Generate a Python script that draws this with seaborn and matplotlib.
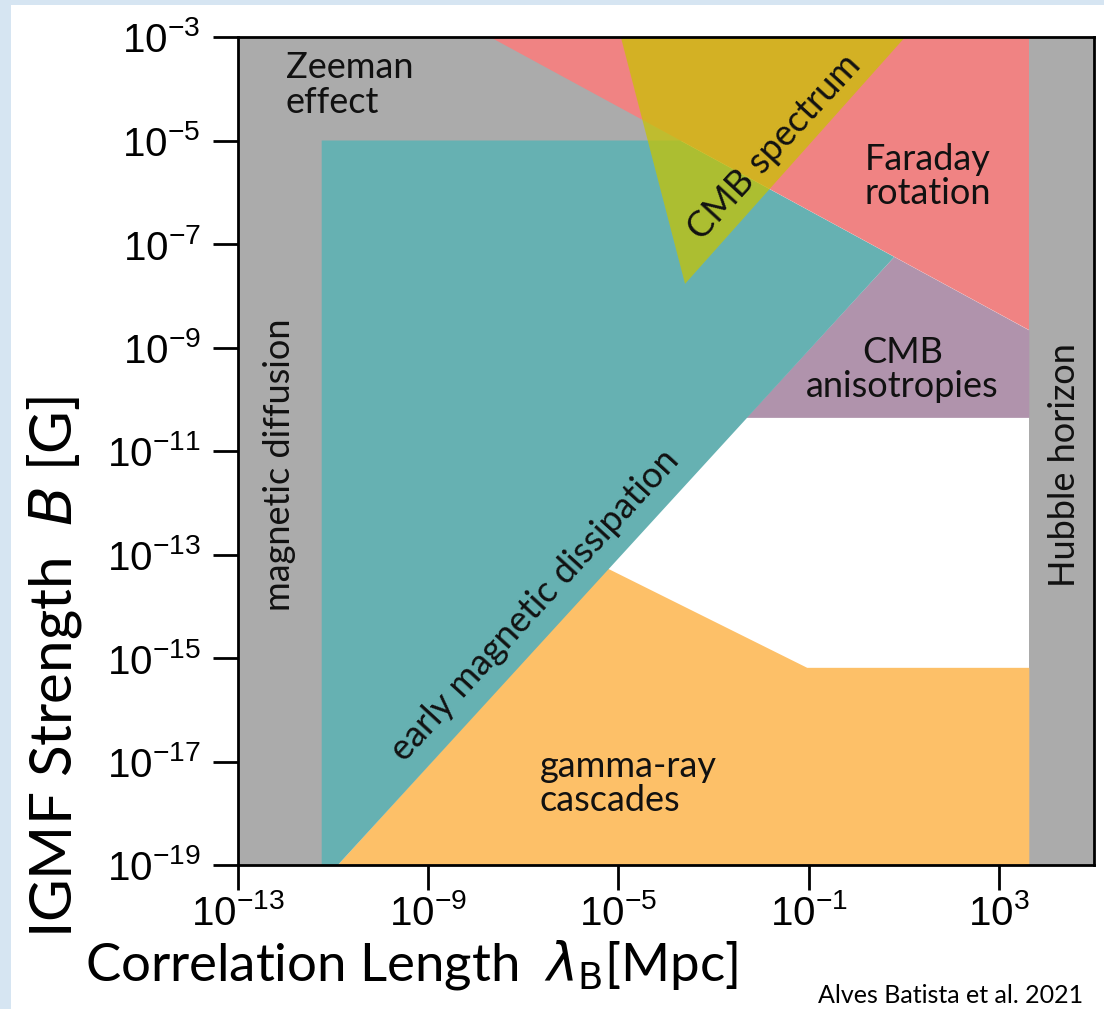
import numpy as np
import matplotlib
matplotlib.use("Agg")
import matplotlib.pyplot as plt
import seaborn as sns
from matplotlib.patches import Rectangle

# ---------------- data (log10 of correlation length [Mpc], log10 of B [G]) ----------------
x_tick_exp = [-13, -9, -5, -1, 3]
y_tick_exp = [-3, -5, -7, -9, -11, -13, -15, -17, -19]
x_lim_exp = [-13, 5]
y_lim_exp = [-19, -3]

zeeman_x = [-13, 3.64, 3.64, -13]
zeeman_y = [-5, -5, -3, -3]
diffusion_x = [-13, -11.24, -11.24, -13]
diffusion_y = [-19, -19, -3, -3]
hubble_x = [3.64, 5, 5, 3.64]
hubble_y = [-19, -19, -3, -3]
cascade_x = [-10.9, 3.64, 3.64, -1.03, -5.23]
cascade_y = [-19, -19, -15.19, -15.19, -13.27]
anisotropy_x = [-2.31, 3.64, 3.64, 0.8]
anisotropy_y = [-10.36, -10.36, -8.67, -7.25]
dissipation_x = [-11.24, -10.9, 0.8, -3.7, -11.24]
dissipation_y = [-19, -19, -7.25, -5, -5]
faraday_x = [-7.7, 3.64, 3.64]
faraday_y = [-3, -3, -8.67]
cmb_spec_x = [-4.95, 1.03, -3.6]
cmb_spec_y = [-3, -3, -7.77]

labels = ["Zeeman\neffect", "Faraday\nrotation", "CMB\nanisotropies", "gamma-ray\ncascades",
          "magnetic diffusion", "Hubble horizon", "early magnetic dissipation", "CMB spectrum"]
label_x = [-12.0, 1.5, 0.97, -6.66, -12.12, 4.37, -6.76, -1.72]
label_y = [-3.93, -5.7, -9.43, -17.42, -11.27, -11.27, -13.98, -5.13]
label_rot = [0, 0, 0, 0, 90, 90, 47.5, 47.5]
label_ha = ["left", "center", "center", "left", "center", "center", "center", "center"]

# ---------------- style ----------------
sns.set_theme(style="white")
plt.rcParams["font.family"] = ["Liberation Sans", "DejaVu Sans"]
plt.rcParams["mathtext.fontset"] = "dejavusans"

W, H = 1104, 1009
fig = plt.figure(figsize=(W / 100, H / 100), dpi=100, facecolor="#d6e5f2")
fig.patches.append(Rectangle((11 / W, 0), 1, 1 - 5 / H, transform=fig.transFigure,
                             facecolor="white", edgecolor="none", zorder=-10))

ax = fig.add_axes([238 / W, 1 - 865 / H, (1094 - 238) / W, (865 - 37) / H])
ax.set_facecolor("white")
ax.set_xscale("log")
ax.set_yscale("log")

p = lambda v: 10.0 ** np.asarray(v, dtype=float)

ax.fill(p(zeeman_x), p(zeeman_y), color="#ababab", lw=0, zorder=1)
ax.fill(p(diffusion_x), p(diffusion_y), color="#ababab", lw=0, zorder=1)
ax.fill(p(hubble_x), p(hubble_y), color="#ababab", lw=0, zorder=1)
ax.fill(p(cascade_x), p(cascade_y), color="#fdc068", lw=0, zorder=2)
ax.fill(p(anisotropy_x), p(anisotropy_y), color="#b093ac", lw=0, zorder=2)
ax.fill(p(dissipation_x), p(dissipation_y), color="#66b1b2", lw=0, zorder=3)
ax.fill(p(faraday_x), p(faraday_y), color="#f08383", lw=0, zorder=4)
ax.fill(p(cmb_spec_x), p(cmb_spec_y), color="#c8c400", alpha=0.72, lw=0, zorder=5)

for t, x, y, r, ha in zip(labels, label_x, label_y, label_rot, label_ha):
    ax.text(10.0 ** x, 10.0 ** y, t, rotation=r, ha=ha, va="center", rotation_mode="anchor",
            family=["Lato", "DejaVu Sans"], fontsize=26, color="#111111", zorder=6,
            linespacing=1.05)

ax.set_xlim(p(x_lim_exp))
ax.set_ylim(p(y_lim_exp))
ax.set_xticks(p(x_tick_exp))
ax.set_yticks(p(y_tick_exp))
ax.minorticks_off()
ax.tick_params(axis="both", which="major", direction="out", length=18, width=2,
               labelsize=29, color="black", labelcolor="black", bottom=True, left=True)
ax.tick_params(axis="x", pad=3)
ax.tick_params(axis="y", pad=9)
for s in ax.spines.values():
    s.set_linewidth(2)
    s.set_color("black")
    s.set_zorder(10)

# axis labels (slide overlay style)
fig.text(85 / W, 1 - 981 / H, r"Correlation Length  $\lambda_{\mathrm{B}}$[Mpc]",
         ha="left", va="baseline", fontsize=38, family=["Lato", "DejaVu Sans"], color="black")
fig.text(55 / W, 1 - 667 / H, r"IGMF Strength  $B$ [G]", rotation=90,
         ha="center", va="center", fontsize=42, family=["Lato", "DejaVu Sans"], color="black")
fig.text(818 / W, 1 - 1003 / H, "Alves Batista et al. 2021", ha="left", va="baseline",
         fontsize=18, family=["Lato", "DejaVu Sans"], color="black")

fig.savefig("out.png", dpi=100, facecolor=fig.get_facecolor())
